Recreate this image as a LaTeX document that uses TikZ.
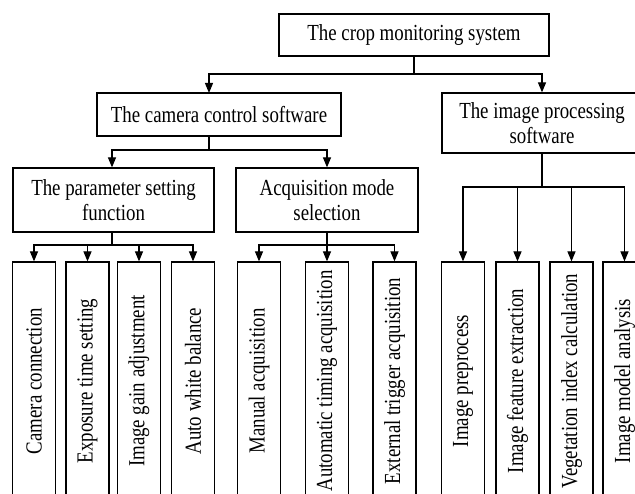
\documentclass[tikz,border=0pt]{standalone}
\usepackage{fontspec}
\setmainfont[FakeStretch=0.82]{Liberation Serif}
\usetikzlibrary{arrows.meta}
\begin{document}
\begin{tikzpicture}[x=1pt,y=-1pt,
  bx/.style={draw, line width=1.2pt, inner sep=0pt, align=center,
    font=\fontsize{23}{25}\selectfont},
  leaf/.style={bx, minimum width=43pt, minimum height=238pt},
  ln/.style={line width=1.2pt},
  arr/.style={line width=1.2pt, -{Triangle[length=10pt,width=8pt]}}]
\useasboundingbox (0,0) rectangle (635,494);
\clip (0,0) rectangle (635,494);
% upper boxes
\node[bx, minimum width=270pt, minimum height=42pt] (top) at (414,35) {The crop monitoring system};
\node[bx, minimum width=244pt, minimum height=43pt] (cam) at (219,114.5) {The camera control software};
\node[bx, minimum width=200pt, minimum height=60pt] (imp) at (542,123) {The image processing\\software};
\node[bx, minimum width=201pt, minimum height=64pt] (par) at (113.5,200) {The parameter setting\\function};
\node[bx, minimum width=182pt, minimum height=64pt] (acq) at (327,200) {Acquisition mode\\selection};
% leaf boxes
\node[leaf] (l1) at (34,381) {\rotatebox{90}{Camera connection}};
\node[leaf] (l2) at (87.5,381) {\rotatebox{90}{Exposure time setting}};
\node[leaf] (l3) at (139,381) {\rotatebox{90}{Image gain adjustment}};
\node[leaf] (l4) at (193,381) {\rotatebox{90}{Auto white balance}};
\node[leaf] (l5) at (259,381) {\rotatebox{90}{Manual acquisition}};
\node[leaf] (l6) at (327,381) {\rotatebox{90}{Automatic timing acquisition}};
\node[leaf] (l7) at (394.5,381) {\rotatebox{90}{External trigger acquisition}};
\node[leaf] (l8) at (463,381) {\rotatebox{90}{Image preprocess}};
\node[leaf] (l9) at (517.5,381) {\rotatebox{90}{Image feature extraction}};
\node[leaf] (l10) at (571.5,381) {\rotatebox{90}{Vegetation index calculation}};
\node[leaf] (l11) at (624.5,381) {\rotatebox{90}{Image model analysis}};
% junctions
\coordinate (j0) at (414,74);
\coordinate (camin) at (209,93);
\coordinate (j1) at (209,150);
\coordinate (j2) at (112,245);
\coordinate (j3) at (327,245);
\coordinate (j4) at (542,187);
% connectors
\draw[ln] (top.south) -- (j0);
\draw[arr] (j0) -| (camin);
\draw[arr] (j0) -| (imp.north);
\draw[ln] (cam.south -| j1) -- (j1);
\draw[arr] (j1) -| (par.north -| j2);
\draw[arr] (j1) -| (acq.north);
\draw[ln] (par.south -| j2) -- (j2);
\foreach \n in {l1,l2,l3,l4} \draw[arr] (j2) -| (\n.north);
\draw[ln] (acq.south) -- (j3);
\foreach \n in {l5,l6,l7} \draw[arr] (j3) -| (\n.north);
\draw[ln] (imp.south) -- (j4);
\foreach \n in {l8,l9,l10,l11} \draw[arr] (j4) -| (\n.north);
\end{tikzpicture}
\end{document}
